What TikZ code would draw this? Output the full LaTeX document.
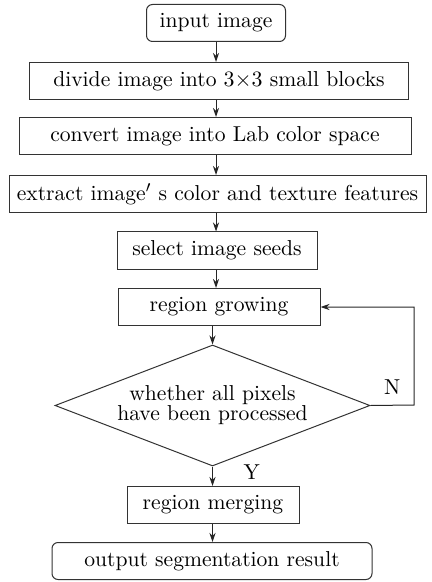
\documentclass[tikz,border=0pt]{standalone}
\usepackage{tikz}
\usetikzlibrary{shapes.geometric,arrows.meta}
\tikzset{
  stepbox/.style={draw=black!80,line width=0.5pt,minimum height=18.5pt,inner sep=0pt},
  termbox/.style={stepbox,rounded corners=3pt},
  decbox/.style={draw=black!80,line width=0.5pt,diamond,aspect=2.6,inner sep=0pt,
    minimum width=157.5pt,minimum height=60.5pt,align=center,
    font=\fontsize{10.8}{10}\selectfont},
  flow/.style={-{Stealth[length=4.5pt,width=3pt]},draw=black!85,line width=0.5pt}
}

\begin{document}
\begin{tikzpicture}[x=0.5pt,y=-0.5pt,font=\fontsize{10.8}{12}\selectfont]
\useasboundingbox (0,0) rectangle (432,582);

\node[termbox,minimum width=69.5pt] (in) at (216,23) {input image};
\node[stepbox,minimum width=189.5pt] (div) at (219,81) {divide image into $3{\times}3$ small blocks};
\node[stepbox,minimum width=196pt] (lab) at (215,136) {convert image into Lab color space};
\node[stepbox,minimum width=208.5pt] (feat) at (217.5,194) {extract image$'$\ s color and texture features};
\node[stepbox,minimum width=100pt] (seed) at (217,250.5) {select image seeds};
\node[stepbox,minimum width=101pt] (grow) at (219,307) {region growing};
\node[decbox] (dec) at (212.5,405.5) {whether all pixels\\have been processed};
\node[stepbox,minimum width=86pt] (merge) at (213,505) {region merging};
\node[termbox,minimum width=160pt] (out) at (212,561) {output segmentation result};

\coordinate (back) at (414,405);

\draw[flow] (in.south) -- (in.south |- div.north);
\draw[flow] (in.south |- div.south) -- (in.south |- lab.north);
\draw[flow] (in.south |- lab.south) -- (in.south |- feat.north);
\draw[flow] (in.south |- feat.south) -- (in.south |- seed.north);
\draw[flow] (in.south |- seed.south) -- (in.south |- grow.north);
\draw[flow] (grow.south -| dec.north) -- (dec.north);
\draw[flow] (dec.south) -- node[right=12pt,pos=0.3] {Y} (dec.south |- merge.north);
\draw[flow] (dec.south |- merge.south) -- (dec.south |- out.north);
\draw[flow] (dec.east) -- node[above=2pt] {N} (back) |- (grow.east);
\end{tikzpicture}
\end{document}
